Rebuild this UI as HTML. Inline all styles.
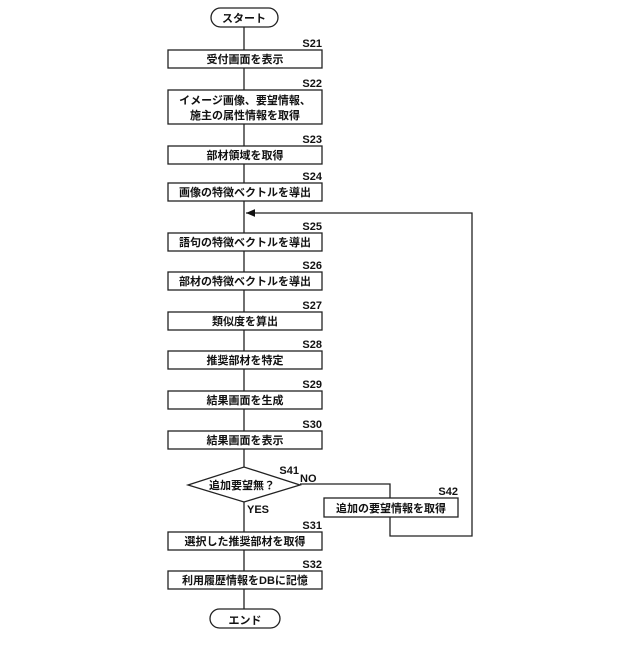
<!DOCTYPE html>
<html><head><meta charset="utf-8"><style>
body{margin:0;background:#fff}
svg text{font-family:"Liberation Sans","Noto Sans CJK JP",sans-serif;font-weight:bold;font-size:11px;fill:#111}
</style></head><body>
<svg width="640" height="640" viewBox="0 0 640 640" xmlns="http://www.w3.org/2000/svg">
<defs><marker id="a" markerWidth="8" markerHeight="8" refX="7" refY="4" orient="auto"><path d="M0,1 L7,4 L0,7 z" fill="#111"/></marker></defs>
<g stroke="#222" stroke-width="1.3" fill="none">
<line x1="244" y1="27" x2="244" y2="609"/>
<rect x="211" y="8" width="67" height="19" rx="9.5" fill="#fff"/>
<rect x="210" y="609" width="70" height="19" rx="9.5" fill="#fff"/>
<rect x="168" y="50" width="154" height="18" fill="#fff"/>
<rect x="168" y="90" width="154" height="34" fill="#fff"/>
<rect x="168" y="146" width="154" height="18" fill="#fff"/>
<rect x="168" y="183" width="154" height="18" fill="#fff"/>
<rect x="168" y="233" width="154" height="18" fill="#fff"/>
<rect x="168" y="272" width="154" height="18" fill="#fff"/>
<rect x="168" y="312" width="154" height="18" fill="#fff"/>
<rect x="168" y="351" width="154" height="18" fill="#fff"/>
<rect x="168" y="391" width="154" height="18" fill="#fff"/>
<rect x="168" y="431" width="154" height="18" fill="#fff"/>
<polygon points="188,485 244,467 300,485 244,502" fill="#fff"/>
<rect x="168" y="532" width="154" height="18" fill="#fff"/>
<rect x="168" y="571" width="154" height="18" fill="#fff"/>
<polyline points="300,484 390,484 390,498"/>
<rect x="324" y="498" width="134" height="19" fill="#fff"/>
<polyline points="390,517 390,536 472,536 472,213 246,213" marker-end="url(#a)"/>
</g>
<g text-anchor="middle">
<text x="244" y="22">スタート</text>
<text x="245" y="624">エンド</text>
<text x="245" y="63">受付画面を表示</text>
<text x="245" y="104">イメージ画像、要望情報、</text>
<text x="245" y="119">施主の属性情報を取得</text>
<text x="245" y="159">部材領域を取得</text>
<text x="245" y="196">画像の特徴ベクトルを導出</text>
<text x="245" y="246">語句の特徴ベクトルを導出</text>
<text x="245" y="285">部材の特徴ベクトルを導出</text>
<text x="245" y="325">類似度を算出</text>
<text x="245" y="364">推奨部材を特定</text>
<text x="245" y="404">結果画面を生成</text>
<text x="245" y="444">結果画面を表示</text>
<text x="242" y="489">追加要望無？</text>
<text x="245" y="545">選択した推奨部材を取得</text>
<text x="245" y="584">利用履歴情報をDBに記憶</text>
<text x="391" y="512">追加の要望情報を取得</text>
</g>
<g text-anchor="end">
<text x="322" y="47">S21</text>
<text x="322" y="87">S22</text>
<text x="322" y="143">S23</text>
<text x="322" y="180">S24</text>
<text x="322" y="230">S25</text>
<text x="322" y="269">S26</text>
<text x="322" y="309">S27</text>
<text x="322" y="348">S28</text>
<text x="322" y="388">S29</text>
<text x="322" y="428">S30</text>
<text x="299" y="474">S41</text>
<text x="458" y="495">S42</text>
<text x="322" y="529">S31</text>
<text x="322" y="568">S32</text>
</g>
<text x="300" y="482">NO</text>
<text x="247" y="513">YES</text>
</svg>
</body></html>
